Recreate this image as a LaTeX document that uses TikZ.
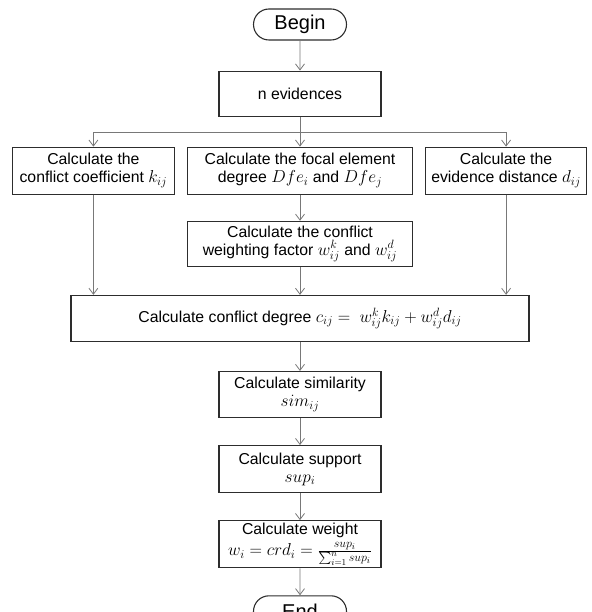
\documentclass[tikz,border=0pt]{standalone}
\usepackage{fontspec}
\setmainfont{Liberation Sans}
\usepackage{amsmath}
\DeclareMathSizes{15.8}{18.5}{12.5}{9.5}
\usetikzlibrary{arrows.meta, positioning, shapes.misc}
\definecolor{boxline}{RGB}{45,45,45}
\definecolor{arrowgray}{RGB}{120,120,120}

\begin{document}
\begin{tikzpicture}[x=1pt, y=1pt, >={Straight Barb[length=6pt, width=9pt]},
    font=\fontsize{15.8}{18}\selectfont,
    block/.style={draw=boxline, line width=1.1pt, rectangle, minimum width=162pt, minimum height=47pt, inner sep=2pt, align=center},
    terminal/.style={draw=boxline, line width=1.1pt, rounded rectangle, minimum width=97pt, minimum height=31pt, inner sep=2pt, font=\fontsize{20}{22}\selectfont},
    arr/.style={->, arrowgray, line width=0.8pt}]

    \useasboundingbox (0,0) rectangle (591,-612);

    \node[terminal] (begin) at (300,-24.5) {Begin};
    \node[block, minimum height=45pt, below=30pt of begin] (nevid) {n evidences};
    \node[block, minimum width=225pt, below=30pt of nevid] (dfe) {Calculate the focal element\\degree $Dfe_i$ and $Dfe_j$};
    \node[block, left=12pt of dfe] (kcoef) {Calculate the\\conflict coefficient $k_{ij}$};
    \node[block, minimum width=161pt, right=12pt of dfe] (dist) {Calculate the\\evidence distance $d_{ij}$};
    \node[block, minimum width=225pt, minimum height=45pt, below=26pt of dfe] (wfac) {Calculate the conflict\\weighting factor $w_{ij}^{k}$ and $w_{ij}^{d}$};
    \node[block, minimum width=458pt, minimum height=46pt, below=28pt of wfac] (cdeg) {Calculate conflict degree $c_{ij} =~ w_{ij}^{k}k_{ij} + w_{ij}^{d}d_{ij}$};
    \node[block, minimum height=46pt, below=29pt of cdeg] (sim) {Calculate similarity\\$sim_{ij}$};
    \node[block, below=27pt of sim] (sup) {Calculate support\\$sup_i$};
    \node[block, inner sep=0pt, below=27pt of sup] (wgt) {Calculate weight\\[3pt]$w_i = crd_i = \frac{sup_i}{\sum_{i=1}^{n} sup_i}$};
    \node[terminal, below=27pt of wgt] (end) {End};

    \coordinate[below=16pt of nevid] (split);

    \draw[arr] (begin) -- (nevid);
    \draw[arr] (nevid) -- (dfe);
    \draw[arr] (split) -| (kcoef.north);
    \draw[arr] (split) -| (dist.north);
    \draw[arr] (dfe) -- (wfac);
    \draw[arr] (wfac) -- (cdeg);
    \draw[arr] (kcoef.south) -- (kcoef.south |- cdeg.north);
    \draw[arr] (dist.south) -- (dist.south |- cdeg.north);
    \draw[arr] (cdeg) -- (sim);
    \draw[arr] (sim) -- (sup);
    \draw[arr] (sup) -- (wgt);
    \draw[arr] (wgt) -- (end);
\end{tikzpicture}
\end{document}
